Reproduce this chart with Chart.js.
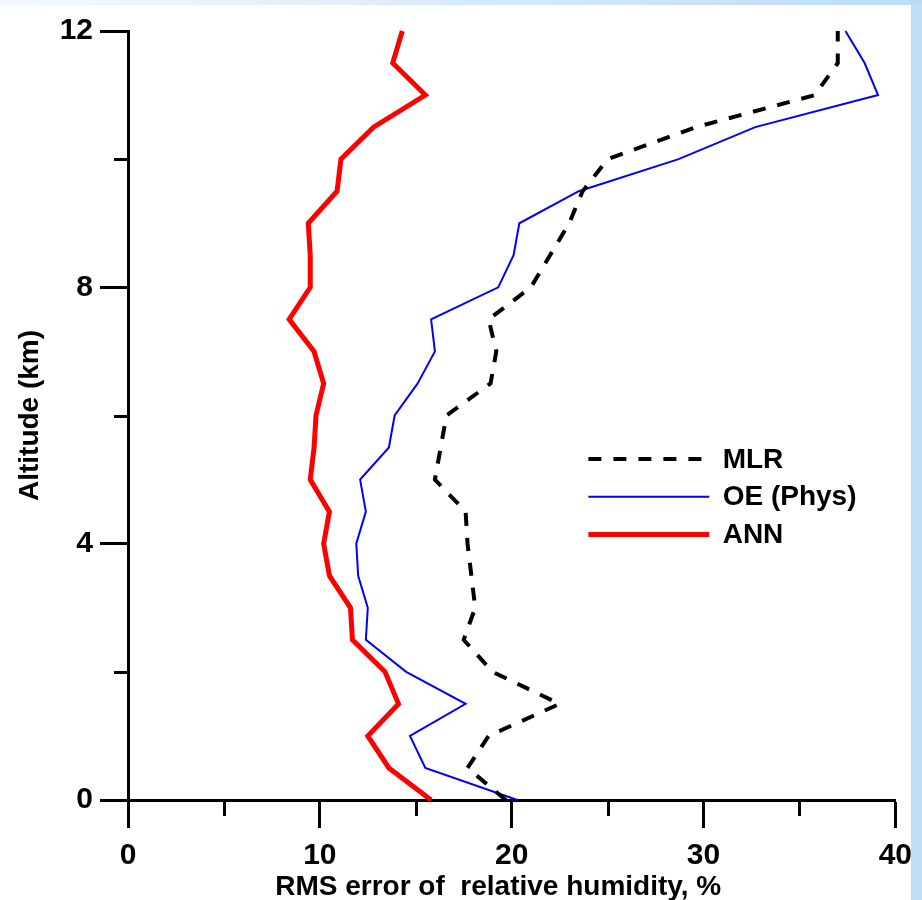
<!DOCTYPE html>
<html>
<head>
<meta charset="utf-8">
<title>RMS error of relative humidity</title>
<script src="https://cdn.jsdelivr.net/npm/chart.js@4.4.1/dist/chart.umd.min.js"></script>
<style>
  html, body { margin: 0; padding: 0; background: #ffffff; }
  #frame { position: relative; width: 922px; height: 900px; overflow: hidden; background: #c0dff7; }
  #frame .topband { position: absolute; left: 0; top: 0; width: 922px; height: 5px;
    background: linear-gradient(to right, #f4f9fe, #bcdcf6); }
  #frame .sheet { position: absolute; left: 0; top: 5px; width: 911px; height: 895px; background: #ffffff; }
  #frame canvas { position: absolute; left: 0; top: 0; }
</style>
</head>
<body>
<div id="frame">
  <div class="topband"></div>
  <div class="sheet"></div>
  <canvas id="chart" width="922" height="900"></canvas>
</div>
<script>
// Altitude levels of the retrieval profiles (km)
const altitudeKm = [0, 0.5, 1, 1.5, 2, 2.5, 3, 3.5, 4, 4.5, 5, 5.5, 6,
                    6.5, 7, 7.5, 8, 8.5, 9, 9.5, 10, 10.5, 11, 11.5, 12];

// RMS error of relative humidity (%) for each retrieval method
const mlrRms    = [19.7, 17.7, 18.8, 22.5, 19.0, 17.5, 18.1, 17.9, 17.7, 17.6, 16.0, 16.3, 16.6,
                   18.9, 19.2, 18.8, 21.0, 22.0, 23.0, 23.7, 25.0, 29.6, 35.8, 37.0, 37.0];
const oePhysRms = [20.3, 15.5, 14.7, 17.6, 14.5, 12.4, 12.5, 12.0, 11.9, 12.4, 12.1, 13.6, 13.9,
                   15.1, 16.0, 15.8, 19.3, 20.1, 20.4, 23.5, 28.7, 32.7, 39.1, 38.4, 37.4];
const annRms    = [15.8, 13.6, 12.5, 14.1, 13.4, 11.7, 11.6, 10.5, 10.2, 10.5, 9.5, 9.7, 9.8,
                   10.2, 9.7, 8.4, 9.5, 9.5, 9.4, 10.9, 11.1, 12.8, 15.5, 13.8, 14.3];

const seriesNames = ['MLR', 'OE (Phys)', 'ANN'];

// Axis ticks
const xMajorTicks = [0, 10, 20, 30, 40];
const xMinorTicks = [5, 15, 25, 35];
const yMajorTicks = [0, 4, 8, 12];
const yMinorTicks = [2, 6, 10];

const xTitle = 'RMS error of  relative humidity, %';
const yTitle = 'Altitude (km)';

const FONT = "'Liberation Sans', Arial, Helvetica, sans-serif";

function profile(values) {
  return values.map((v, i) => ({ x: v, y: altitudeKm[i] }));
}

// Short outward tick marks between the labelled ones
const minorTicks = {
  id: 'minorTicks',
  afterDraw(chart, args, opts) {
    const { ctx, chartArea, scales } = chart;
    ctx.save();
    ctx.strokeStyle = opts.color;
    ctx.lineWidth = opts.width;
    ctx.lineCap = 'butt';
    ctx.beginPath();
    xMinorTicks.forEach(v => {
      const px = Math.round(scales.x.getPixelForValue(v)) + 0.5;
      ctx.moveTo(px, chartArea.bottom);
      ctx.lineTo(px, chartArea.bottom + opts.xLength);
    });
    yMinorTicks.forEach(v => {
      const py = Math.round(scales.y.getPixelForValue(v)) + 0.5;
      ctx.moveTo(chartArea.left, py);
      ctx.lineTo(chartArea.left - opts.yLength, py);
    });
    ctx.stroke();
    ctx.restore();
  }
};

// Horizontal axis caption, centred on a value of the x scale
const xCaption = {
  id: 'xCaption',
  afterDraw(chart, args, opts) {
    const { ctx, chartArea, scales } = chart;
    ctx.save();
    ctx.fillStyle = opts.color;
    ctx.font = opts.font;
    ctx.textAlign = 'center';
    ctx.textBaseline = 'alphabetic';
    ctx.fillText(opts.text, scales.x.getPixelForValue(opts.centerAt), chartArea.bottom + opts.baselineOffset);
    ctx.restore();
  }
};

// Key inside the plot, anchored in data coordinates
const lineKey = {
  id: 'lineKey',
  afterDraw(chart, args, opts) {
    const { ctx, scales: { x, y } } = chart;
    const x0 = x.getPixelForValue(opts.lineFrom);
    const x1 = x.getPixelForValue(opts.lineTo);
    const xt = x.getPixelForValue(opts.textAt);
    let yy = y.getPixelForValue(opts.firstRow);
    chart.data.datasets.forEach(ds => {
      ctx.save();
      ctx.strokeStyle = ds.borderColor;
      ctx.lineWidth = ds.borderWidth;
      ctx.lineCap = 'butt';
      ctx.setLineDash(ds.borderDash || []);
      ctx.beginPath();
      ctx.moveTo(x0, yy);
      ctx.lineTo(x1, yy);
      ctx.stroke();
      ctx.setLineDash([]);
      ctx.fillStyle = '#000000';
      ctx.font = opts.font;
      ctx.textAlign = 'left';
      ctx.textBaseline = 'middle';
      ctx.fillText(ds.label, xt, yy + 1);
      ctx.restore();
      yy += opts.rowGap;
    });
  }
};

const tickFont = { family: FONT, size: 30, weight: 'bold' };
const titleFont = { family: FONT, size: 28, weight: 'bold', lineHeight: 1 };

new Chart(document.getElementById('chart'), {
  type: 'scatter',
  data: {
    datasets: [
      {
        label: seriesNames[0],
        data: profile(mlrRms),
        showLine: true,
        borderColor: '#000000',
        borderWidth: 4,
        borderDash: [13, 12],
        clip: false
      },
      {
        label: seriesNames[1],
        data: profile(oePhysRms),
        showLine: true,
        borderColor: '#0000ff',
        borderWidth: 2,
        clip: false
      },
      {
        label: seriesNames[2],
        data: profile(annRms),
        showLine: true,
        borderColor: '#ff0000',
        borderWidth: 5,
        clip: false
      }
    ]
  },
  options: {
    responsive: false,
    animation: false,
    events: [],
    devicePixelRatio: 1,
    layout: { padding: { top: 31, right: 25, left: 0, bottom: 0 } },
    elements: {
      point: { radius: 0, hoverRadius: 0 },
      line: { tension: 0, borderCapStyle: 'butt', borderJoinStyle: 'miter', fill: false }
    },
    scales: {
      x: {
        type: 'linear',
        position: 'bottom',
        min: 0,
        max: 40,
        afterBuildTicks: s => { s.ticks = xMajorTicks.map(v => ({ value: v })); },
        afterFit: s => { s.height = 100; },
        ticks: { color: '#000000', font: tickFont, padding: 10, maxRotation: 0, autoSkip: false },
        grid: { display: true, drawOnChartArea: false, drawTicks: true, tickLength: 28, tickWidth: 3, tickColor: '#000000' },
        border: { display: true, color: '#000000', width: 3 },
        title: { display: false }
      },
      y: {
        type: 'linear',
        position: 'left',
        min: 0,
        max: 12,
        afterBuildTicks: s => { s.ticks = yMajorTicks.map(v => ({ value: v })); },
        afterFit: s => { s.width = 128; },
        ticks: { color: '#000000', font: tickFont, padding: 7, autoSkip: false },
        grid: { display: true, drawOnChartArea: false, drawTicks: true, tickLength: 28, tickWidth: 3, tickColor: '#000000' },
        border: { display: true, color: '#000000', width: 3 },
        title: { display: true, text: yTitle, color: '#000000', font: titleFont, padding: { top: 16, bottom: 0 } }
      }
    },
    plugins: {
      legend: { display: false },
      tooltip: { enabled: false },
      minorTicks: { color: '#000000', width: 3, xLength: 16, yLength: 14 },
      xCaption: {
        text: xTitle,
        color: '#000000',
        font: "bold 28px " + FONT,
        centerAt: 19.3,
        baselineOffset: 95
      },
      lineKey: {
        lineFrom: 24.0,
        lineTo: 30.3,
        textAt: 31.0,
        firstRow: 5.32,
        rowGap: 37.7,
        font: "bold 28px " + FONT
      }
    }
  },
  plugins: [minorTicks, xCaption, lineKey]
});
</script>
</body>
</html>
